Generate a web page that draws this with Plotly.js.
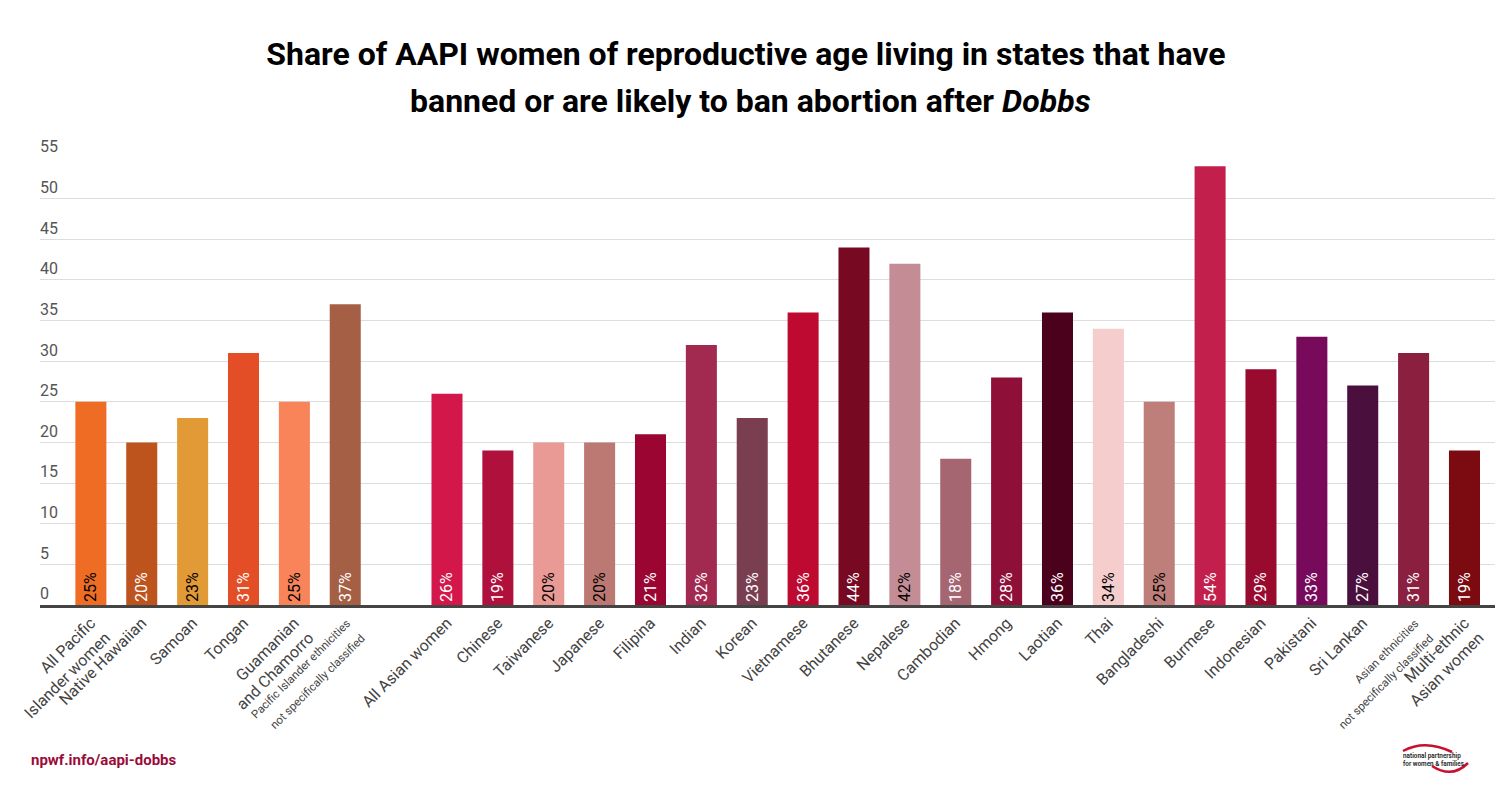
<!DOCTYPE html>
<html>
<head>
<meta charset="utf-8">
<script src="https://cdn.plot.ly/plotly-3.0.1.min.js"></script>
<style>html,body{margin:0;padding:0;background:#fff;}#chart{width:1500px;height:790px;}</style>
</head>
<body>
<div id="chart"></div>
<script>
const SMALL = s => '<span style="font-size:11.5px">' + s + '</span>';
const categories = [
  'All Pacific<br>Islander women', 'Native Hawaiian', 'Samoan', 'Tongan', 'Guamanian<br>and Chamorro',
  SMALL('Pacific Islander ethnicities') + '<br>' + SMALL('not specifically classified'),
  ' ',
  'All Asian women', 'Chinese', 'Taiwanese', 'Japanese', 'Filipina', 'Indian', 'Korean', 'Vietnamese',
  'Bhutanese', 'Nepalese', 'Cambodian', 'Hmong', 'Laotian', 'Thai', 'Bangladeshi', 'Burmese',
  'Indonesian', 'Pakistani', 'Sri Lankan',
  SMALL('Asian ethnicities') + '<br>' + SMALL('not specifically classified'),
  'Multi-ethnic<br>Asian women'
];
const values = [25, 20, 23, 31, 25, 37, null, 26, 19, 20, 20, 21, 32, 23, 36, 44, 42, 18, 28, 36, 34, 25, 54, 29, 33, 27, 31, 19];
const barColors = [
  '#EE6C24', '#BE541D', '#E29A37', '#E44E26', '#F98459', '#A55F45', '#ffffff',
  '#D3174A', '#AF113C', '#EA9A95', '#BC7872', '#9A0532', '#A2294F', '#7A3E51', '#BE0A31',
  '#770A22', '#C48D96', '#A56672', '#8E0F37', '#4B001C', '#F4CDCC', '#BE7E7A', '#C31F4C',
  '#990A2F', '#780A5C', '#4A0F3D', '#8A1F40', '#7B0A11'
];
const textColors = [
  '#000', '#fff', '#000', '#fff', '#000', '#fff', '#fff',
  '#fff', '#fff', '#000', '#000', '#fff', '#fff', '#fff', '#fff',
  '#fff', '#000', '#fff', '#fff', '#fff', '#000', '#000', '#fff',
  '#fff', '#fff', '#fff', '#fff', '#fff'
];
const yTicks = [0, 5, 10, 15, 20, 25, 30, 35, 40, 45, 50, 55];

const FONT = 'Roboto, "Open Sans", sans-serif';
// plot area geometry (pixels) for decorative placement
const L = 40, R = 5, T = 158, B = 185, W = 1500, H = 790;
const pw = W - L - R, ph = H - T - B;
const px = X => (X - L) / pw;
const py = Y => (H - B - Y) / ph;

const trace = {
  type: 'bar',
  x: categories,
  y: values,
  marker: {color: barColors, line: {width: 0}},
  text: values.map(v => v == null ? '' : v + '%'),
  textposition: 'inside',
  insidetextanchor: 'start',
  textangle: -90,
  constraintext: 'none',
  textfont: {family: FONT, size: 16, color: textColors},
  hoverinfo: 'x+y',
  cliponaxis: false
};

function p(x, y) { return px(x).toFixed(5) + ',' + py(y).toFixed(5); }

const layout = {
  width: W, height: H,
  margin: {l: L, r: R, t: T, b: B, pad: 0},
  paper_bgcolor: '#ffffff',
  plot_bgcolor: '#ffffff',
  showlegend: false,
  bargap: 0.39,
  font: {family: FONT, color: '#444'},
  title: {
    text: 'Share of AAPI women of reproductive age living in states that have',
    font: {family: FONT, size: 32, color: '#000', weight: 700},
    xref: 'container', x: 746 / W, xanchor: 'center',
    yref: 'container', y: 1 - 54 / H, yanchor: 'middle'
  },
  xaxis: {
    type: 'category',
    categoryorder: 'array',
    categoryarray: categories,
    range: [-1.0, 27.6],
    tickangle: -45,
    tickfont: {family: FONT, size: 16, color: '#444'},
    showline: true, linecolor: '#444', linewidth: 2.5,
    ticks: '', showgrid: false, zeroline: false, fixedrange: true
  },
  yaxis: {
    range: [0, 55],
    tickvals: yTicks,
    ticktext: yTicks.map(String),
    ticklabelposition: 'inside top',
    ticklabeloverflow: 'allow',
    ticklabelstandoff: -3,
    tickfont: {family: FONT, size: 16, color: '#555'},
    showgrid: true, gridcolor: '#dddddd', gridwidth: 1,
    zeroline: false, showline: false, ticks: '', fixedrange: true
  },
  annotations: [
    {
      text: 'banned or are likely to ban abortion after <i>Dobbs</i>',
      xref: 'paper', yref: 'paper', x: px(750), y: py(101),
      xanchor: 'center', yanchor: 'middle', showarrow: false,
      font: {family: FONT, size: 32, color: '#000', weight: 700}
    },
    {
      text: 'npwf.info/aapi-dobbs',
      xref: 'paper', yref: 'paper', x: px(29), y: py(760),
      xanchor: 'left', yanchor: 'middle', showarrow: false,
      font: {family: FONT, size: 15, color: '#9B0B3A', weight: 700}
    },
    {
      text: 'national partnership<br>for women & families',
      xref: 'paper', yref: 'paper', x: px(1401), y: py(759.5),
      xanchor: 'left', yanchor: 'middle', showarrow: false, align: 'left',
      font: {family: FONT, size: 6.4, color: '#222', weight: 600}
    }
  ],
  shapes: [
    {
      type: 'path', xref: 'paper', yref: 'paper',
      path: 'M' + p(1403, 751) + ' Q' + p(1425, 739) + ' ' + p(1452, 752),
      line: {color: '#C8102E', width: 2.5}
    },
    {
      type: 'path', xref: 'paper', yref: 'paper',
      path: 'M' + p(1432, 766) + ' Q' + p(1452, 779) + ' ' + p(1468, 763),
      line: {color: '#C8102E', width: 2.5}
    }
  ]
};

Plotly.newPlot('chart', [trace], layout, {displayModeBar: false, staticPlot: true});
</script>
</body>
</html>
